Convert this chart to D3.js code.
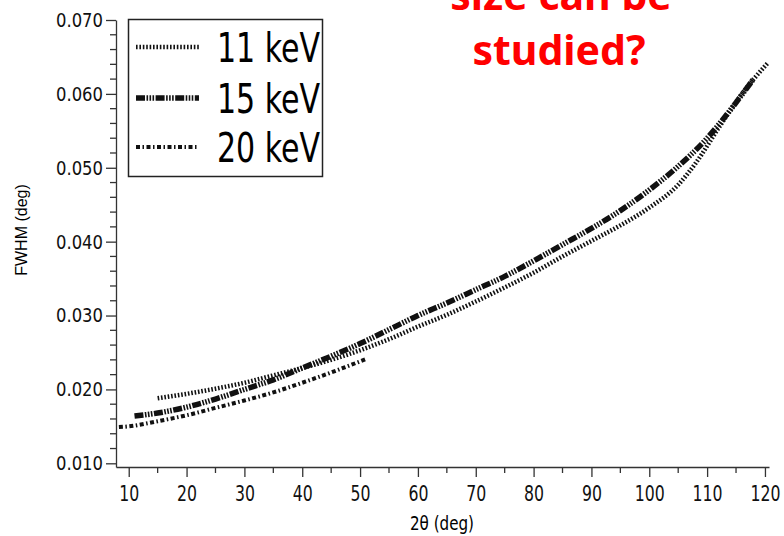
<!DOCTYPE html>
<html>
<head>
<meta charset="utf-8">
<script src="https://cdn.jsdelivr.net/npm/d3@7"></script>
<style>
  body { margin: 0; background: #fff; }
  svg { display: block; }
</style>
</head>
<body>
<div id="chart"></div>
<script>
// 2theta (deg) and FWHM (deg)
var angle11 = [15, 20, 25, 30, 35, 40, 45, 50, 55, 60, 65, 70, 75, 80, 85, 90, 95, 100, 105, 108, 112, 116, 120.5];
var fwhm11  = [0.0188, 0.0194, 0.0201, 0.0209, 0.0219, 0.0229, 0.0240, 0.0253, 0.0268, 0.0285, 0.0301, 0.0319,
               0.0338, 0.0358, 0.0380, 0.0401, 0.0422, 0.0446, 0.0477, 0.0506, 0.0554, 0.0600, 0.0642];

var angle15 = [11, 15, 20, 25, 30, 35, 40, 45, 50, 55, 60, 65, 70, 75, 80, 85, 90, 95, 100, 105, 110, 114, 118];
var fwhm15  = [0.0164, 0.0168, 0.0176, 0.0187, 0.0200, 0.0213, 0.0229, 0.0245, 0.0262, 0.0281, 0.0300, 0.0317,
               0.0335, 0.0353, 0.0374, 0.0396, 0.0418, 0.0442, 0.0470, 0.0502, 0.0540, 0.0578, 0.0620];

var angle20 = [8.3, 10, 15, 20, 25, 30, 35, 40, 45, 51];
var fwhm20  = [0.0149, 0.0150, 0.0157, 0.0165, 0.0175, 0.0185, 0.0196, 0.0209, 0.0223, 0.0241];

var seriesNames = ["11 keV", "15 keV", "20 keV"];
var xTicks = [10, 20, 30, 40, 50, 60, 70, 80, 90, 100, 110, 120];
var yTicks = [0.010, 0.020, 0.030, 0.040, 0.050, 0.060, 0.070];

var width = 784, height = 536;
var tickFont = "'DejaVu Sans Condensed', 'DejaVu Sans', sans-serif";

var svg = d3.select("#chart").append("svg")
    .attr("width", width)
    .attr("height", height);

var x = d3.scaleLinear().domain([7.8, 120.7]).range([116, 769]);
var y = d3.scaleLinear().domain([0.0095, 0.070]).range([467, 20]);

var axisColor = "#333";

// Y axis
var yAxis = svg.append("g")
    .attr("transform", "translate(116,0)")
    .call(d3.axisLeft(y).tickValues(yTicks).tickSize(10).tickSizeOuter(0)
      .tickFormat(d3.format(".3f")));
yAxis.select(".domain").attr("stroke", axisColor).attr("stroke-width", 1.3);
yAxis.selectAll(".tick line").attr("stroke", axisColor).attr("stroke-width", 1.3);
yAxis.selectAll(".tick text")
    .attr("x", -13)
    .attr("fill", "#111")
    .attr("textLength", 47)
    .attr("lengthAdjust", "spacingAndGlyphs")
    .style("font-family", tickFont)
    .style("font-stretch", "condensed")
    .style("font-size", "20px");
yAxis.selectAll(".minor")
    .data(d3.range(0.012, 0.0695, 0.002).filter(function(v) { return Math.abs(v * 100 - Math.round(v * 100)) > 1e-6; }))
    .join("line")
    .attr("x1", -6).attr("x2", 0)
    .attr("y1", function(d) { return y(d); })
    .attr("y2", function(d) { return y(d); })
    .attr("stroke", axisColor).attr("stroke-width", 1.3);

// X axis
var xAxis = svg.append("g")
    .attr("transform", "translate(0,467)")
    .call(d3.axisBottom(x).tickValues(xTicks).tickSize(10).tickSizeOuter(0));
xAxis.select(".domain").attr("stroke", axisColor).attr("stroke-width", 1.3);
xAxis.selectAll(".tick line").attr("stroke", axisColor).attr("stroke-width", 1.3);
xAxis.selectAll(".tick text")
    .attr("y", 18)
    .attr("fill", "#111")
    .attr("textLength", function(d) { return d >= 100 ? 30 : 20; })
    .attr("lengthAdjust", "spacingAndGlyphs")
    .style("font-family", tickFont)
    .style("font-stretch", "condensed")
    .style("font-size", "22px");
xAxis.selectAll(".minor")
    .data(d3.range(15, 120, 10))
    .join("line")
    .attr("x1", function(d) { return x(d); })
    .attr("x2", function(d) { return x(d); })
    .attr("y1", 0).attr("y2", 6)
    .attr("stroke", axisColor).attr("stroke-width", 1.3);

// axis titles
svg.append("text")
    .attr("transform", "translate(27,230) rotate(-90)")
    .attr("text-anchor", "middle")
    .style("font-family", "'Liberation Sans', Arial, sans-serif")
    .style("font-size", "16px")
    .text("FWHM (deg)");

svg.append("text")
    .attr("x", 442).attr("y", 530)
    .attr("text-anchor", "middle")
    .attr("textLength", 64)
    .attr("lengthAdjust", "spacingAndGlyphs")
    .style("font-family", tickFont)
    .style("font-size", "19px")
    .text("2\u03b8 (deg)");

// curves
var styles = [
  { dash: "1.6,1.8", w: 4.5 },
  { dash: "9,1.5,1.6,1.4,1.6,1.4,1.6,1.5", w: 5.5 },
  { dash: "4,2.5,1.5,2.5", w: 4 }
];
var series = [
  angle11.map(function(a, i) { return [a, fwhm11[i]]; }),
  angle15.map(function(a, i) { return [a, fwhm15[i]]; }),
  angle20.map(function(a, i) { return [a, fwhm20[i]]; })
];
var line = d3.line()
    .x(function(d) { return x(d[0]); })
    .y(function(d) { return y(d[1]); })
    .curve(d3.curveMonotoneX);

svg.selectAll(".curve")
    .data(series)
    .join("path")
    .attr("class", "curve")
    .attr("fill", "none")
    .attr("stroke", "#111")
    .attr("stroke-width", function(d, i) { return styles[i].w; })
    .attr("stroke-dasharray", function(d, i) { return styles[i].dash; })
    .attr("d", line);

// legend
var legend = svg.append("g");
legend.append("rect")
    .attr("x", 128.5).attr("y", 19.5)
    .attr("width", 194).attr("height", 157)
    .attr("fill", "#fff")
    .attr("stroke", "#222").attr("stroke-width", 1.5);

var legendY = [47, 98, 147];
seriesNames.forEach(function(name, i) {
  legend.append("line")
      .attr("x1", 136).attr("x2", 199)
      .attr("y1", legendY[i]).attr("y2", legendY[i])
      .attr("stroke", "#111")
      .attr("stroke-width", styles[i].w)
      .attr("stroke-dasharray", styles[i].dash);
  legend.append("text")
      .attr("x", 217).attr("y", legendY[i] + 15)
      .attr("textLength", 103)
      .attr("lengthAdjust", "spacingAndGlyphs")
      .style("font-family", tickFont)
      .style("font-size", "41px")
      .text(name);
});

// red annotation
var note = svg.append("g")
    .attr("fill", "#ff0000")
    .attr("text-anchor", "middle")
    .style("font-family", "'Noto Sans', 'Open Sans', sans-serif")
    .style("font-weight", "bold")
    .style("font-size", "41px");
note.append("text").attr("x", 561).attr("y", 10).text("size can be");
note.append("text").attr("x", 559).attr("y", 65).text("studied?");
</script>
</body>
</html>
